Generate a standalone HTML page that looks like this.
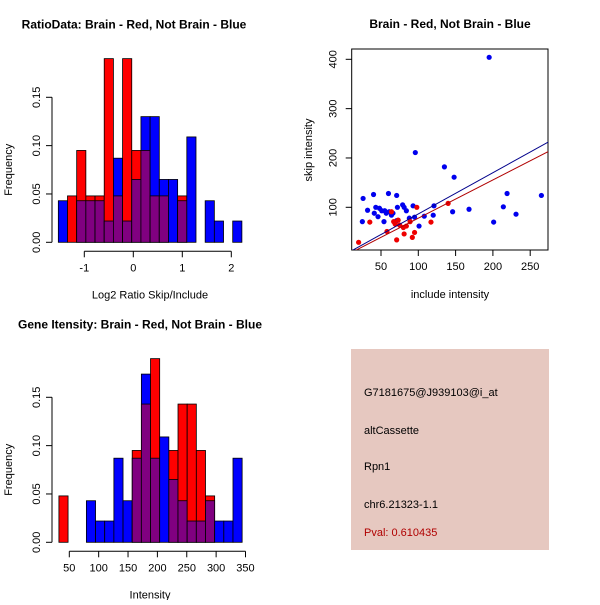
<!DOCTYPE html>
<html><head><meta charset="utf-8"><style>
body{margin:0;background:#fff}
svg text{font-family:"Liberation Sans",sans-serif;font-size:11px}
</style></head><body>
<svg id="c" width="600" height="600" xmlns="http://www.w3.org/2000/svg">
<rect width="600" height="600" fill="#fff"/>
<g id="p1"></g>
<g id="p2"></g>
<g id="p3"></g>
<g>
<rect x="351" y="349" width="198" height="201" fill="#e6c8c0"/>
<text x="364" y="396">G7181675@J939103@i_at</text>
<text x="364" y="434">altCassette</text>
<text x="364" y="470">Rpn1</text>
<text x="364" y="508">chr6.21323-1.1</text>
<text x="364" y="536" fill="#b00000">Pval: 0.610435</text>
</g>
</svg>
<script>
// ---- Histogram 1 data (Log2 ratio) ----
const h1Start = -1.53, h1Width = 0.1873;
const h1Red  = [0,0.048,0.095,0.048,0.048,0.19,0.048,0.19,0.095,0.095,0.048,0.048,0,0.048,0,0,0,0,0,0];
const h1Blue = [0.043,0,0.043,0.043,0.043,0.022,0.087,0.022,0.065,0.13,0.13,0.065,0.065,0.043,0.109,0,0.043,0.022,0,0.022];
const h1XTicks = [-1,0,1,2];
const hYTicks = [0,0.05,0.10,0.15];
// ---- Histogram 2 data (Intensity) ----
const h2Start = 32.3, h2Width = 15.6;
const h2Red  = [0.048,0,0,0,0,0,0,0,0.095,0.143,0.19,0,0.095,0.143,0.143,0.095,0.048,0,0,0];
const h2Blue = [0,0,0,0.043,0.022,0.022,0.087,0.043,0.087,0.174,0.087,0.109,0.065,0.043,0.022,0.022,0.043,0.022,0.022,0.087];
const h2XTicks = [50,100,150,200,250,300,350];
// ---- Scatter data ----
const blueX = [25,26,32,40,41,43,46,48,51,54,57,60,61,64,66,71,72,71,79,81,84,88,93,95,96,101,108,120,121,135,146,148,168,195,201,214,219,231,265,55];
const blueY = [71,118,94,126,88,100,81,98,93,71,88,128,91,84,88,124,100,73,105,100,93,78,103,80,211,62,82,84,103,182,91,161,96,404,70,101,128,86,124,93];
const redX = [20,35,58,64,69,71,73,80,81,84,89,92,95,98,117,140,67,75];
const redY = [29,70,51,91,66,34,74,59,46,62,71,39,49,100,70,108,71,64];
const fitIntercept = [3.0, 0.3]; // blue, red
const fitSlope = [0.836, 0.776];
const sXTicks = [50,100,150,200,250];
const sYTicks = [100,200,300,400];

const NS="http://www.w3.org/2000/svg";
function mk(parent,tag,attrs,text){const e=document.createElementNS(NS,tag);for(const k in attrs)e.setAttribute(k,attrs[k]);if(text!==undefined)e.textContent=text;parent.appendChild(e);return e;}

function hist(g,start,width,red,blue,xTicks,xs,y0,title,titleX,xlabel,fmt){
  const ys=v=>y0-v*966.7;
  const n=red.length;
  for(let i=0;i<n;i++){
    const x1=xs(start+i*width),x2=xs(start+(i+1)*width);
    const r=red[i],b=blue[i];
    const drawBar=(v,col,nm)=>{if(v<=0)return;const e=mk(g,'rect',{x:x1,y:ys(v),width:x2-x1,height:ys(0)-ys(v),fill:col,stroke:'#000','stroke-width':0.8});
      
      };
    if(r>=b){drawBar(r,'#ff0000','bar-red');drawBar(b,'#800080','bar-overlap');}
    else{drawBar(b,'#0000ff','bar-blue');drawBar(r,'#800080','bar-overlap');}
  }
  mk(g,'line',{x1:52,x2:52,y1:ys(0),y2:ys(0.15),stroke:'#000'});
  hYTicks.forEach(t=>{mk(g,'line',{x1:46,x2:52,y1:ys(t),y2:ys(t),stroke:'#000'});
    const tx=mk(g,'text',{x:40,y:ys(t),transform:`rotate(-90 40 ${ys(t)})`,'text-anchor':'middle'},t.toFixed(2));
    
    });
  const ay=y0+9;
  mk(g,'line',{x1:xs(xTicks[0]),x2:xs(xTicks[xTicks.length-1]),y1:ay,y2:ay,stroke:'#000'});
  xTicks.forEach(t=>{mk(g,'line',{x1:xs(t),x2:xs(t),y1:ay,y2:ay+6,stroke:'#000'});
    const tx=mk(g,'text',{x:xs(t),y:ay+20,'text-anchor':'middle'},fmt(t));
    
    });
  const tl=mk(g,'text',{x:titleX,y:y0-214,'text-anchor':'middle','font-weight':'bold','style':'font-size:12px'},title);
  
  
  const xl=mk(g,'text',{x:150,y:ay+47,'text-anchor':'middle'},xlabel);
  
  
  const yc=(ys(0)+ys(0.15))/2;
  const yl=mk(g,'text',{x:12,y:yc,transform:`rotate(-90 12 ${yc})`,'text-anchor':'middle'},'Frequency');
  
  
}
hist(document.getElementById('p1'),h1Start,h1Width,h1Red,h1Blue,h1XTicks,v=>133.3+v*49,242.3,
  'RatioData: Brain - Red, Not Brain - Blue',134,'Log2 Ratio Skip/Include',t=>String(t));
hist(document.getElementById('p3'),h2Start,h2Width,h2Red,h2Blue,h2XTicks,v=>69.3+(v-50)*0.5873,542.3,
  'Gene Itensity: Brain - Red, Not Brain - Blue',140,'Intensity',t=>String(t));

(function(){
  const g=document.getElementById('p2');
  const xs=v=>381+(v-50)*0.746, ys=v=>207.3-(v-100)*0.4933;
  const L=351.7,R=548,T=49,B=250;
  const clip=mk(g,'clipPath',{id:'sc'});mk(clip,'rect',{x:L,y:T,width:R-L,height:B-T});
  mk(g,'rect',{x:L,y:T,width:R-L,height:B-T,fill:'none',stroke:'#000'});
  const pts=mk(g,'g',{'clip-path':'url(#sc)'});
  blueX.forEach((x,i)=>{const c=mk(pts,'circle',{cx:xs(x),cy:ys(blueY[i]),r:2.6,fill:'#0000ee'});
    
    });
  redX.forEach((x,i)=>{const c=mk(pts,'circle',{cx:xs(x),cy:ys(redY[i]),r:2.6,fill:'#ee0000'});
    
    });
  ['#00008b','#b00000'].forEach((col,k)=>{const xa=0,xb=290;
    const l=mk(pts,'line',{x1:xs(xa),y1:ys(fitIntercept[k]+fitSlope[k]*xa),x2:xs(xb),y2:ys(fitIntercept[k]+fitSlope[k]*xb),stroke:col,'stroke-width':1});
    
    });
  sXTicks.forEach(t=>{mk(g,'line',{x1:xs(t),x2:xs(t),y1:B,y2:B+6,stroke:'#000'});
    const tx=mk(g,'text',{x:xs(t),y:B+20,'text-anchor':'middle'},String(t));
    
    });
  sYTicks.forEach(t=>{mk(g,'line',{x1:L-6,x2:L,y1:ys(t),y2:ys(t),stroke:'#000'});
    const tx=mk(g,'text',{x:L-15,y:ys(t),transform:`rotate(-90 ${L-15} ${ys(t)})`,'text-anchor':'middle'},String(t));
    
    });
  const tl=mk(g,'text',{x:450,y:28,'text-anchor':'middle','font-weight':'bold','style':'font-size:12px'},'Brain - Red, Not Brain - Blue');
  
  
  const xl=mk(g,'text',{x:450,y:298,'text-anchor':'middle'},'include intensity');
  
  
  const yl=mk(g,'text',{x:312,y:150,transform:'rotate(-90 312 150)','text-anchor':'middle'},'skip intensity');
  
  
})();
</script>
</body></html>
